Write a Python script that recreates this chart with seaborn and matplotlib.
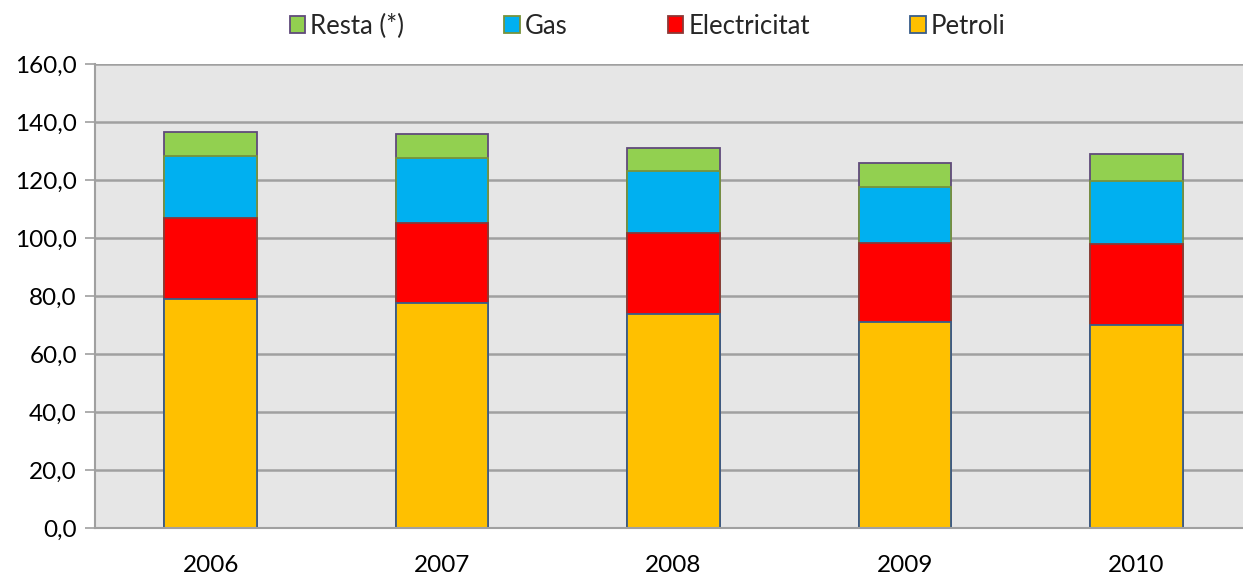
import matplotlib
matplotlib.use("Agg")
import matplotlib.pyplot as plt
import seaborn as sns
import pandas as pd
import numpy as np
from matplotlib.ticker import FuncFormatter, FixedLocator
from matplotlib.patches import Patch

years = ["2006", "2007", "2008", "2009", "2010"]
petroli = [79.1, 77.5, 73.8, 71.2, 70.1]
electricitat = [27.7, 27.8, 27.9, 27.2, 27.9]
gas = [21.6, 22.4, 21.4, 19.3, 21.8]
resta = [8.2, 8.2, 8.1, 8.1, 9.2]

series_names = ["Petroli", "Electricitat", "Gas", "Resta (*)"]
series_values = [petroli, electricitat, gas, resta]
fill_colors = ["#FFC000", "#FF0000", "#00B0F0", "#92D050"]
edge_colors = ["#385D8A", "#8C3836", "#77933C", "#604A7B"]

sns.set_theme(style="white")
plt.rcParams["font.family"] = ["Lato", "DejaVu Sans"]

fig = plt.figure(figsize=(12.43, 5.81), dpi=100)
ax = fig.add_axes([95 / 1243, 52.7 / 581, (1252 - 95) / 1243, (528.3 - 64) / 581])
ax.set_facecolor("#E6E6E6")

cum = np.cumsum(np.array(series_values), axis=0)
df = pd.DataFrame({"year": years})
for i, name in enumerate(series_names):
    df[name] = cum[i]

# draw from top layer down so lower segments overlay
for i in reversed(range(len(series_names))):
    sns.barplot(data=df, x="year", y=series_names[i], color=fill_colors[i],
                edgecolor=edge_colors[i], linewidth=1.3, width=0.4,
                saturation=1, ax=ax, zorder=3)

ax.set_ylim(0, 160)
ax.set_xlim(-0.5, 4.5)
ax.set_yticks(np.arange(0, 161, 20))
ax.yaxis.set_major_formatter(FuncFormatter(lambda v, p: f"{v:.1f}".replace(".", ",")))
ax.grid(axis="y", color="#A0A0A0", linewidth=1.8, zorder=0)
ax.set_axisbelow(True)
ax.set_xlabel("")
ax.set_ylabel("")

ax.xaxis.set_minor_locator(FixedLocator(np.arange(-0.5, 5, 1.0)))
ax.tick_params(axis="x", which="major", length=0, pad=19, labelsize=17.5, labelcolor="black")
ax.tick_params(axis="x", which="minor", length=7, width=1.2, color="#A0A0A0", direction="out")
ax.tick_params(axis="y", which="major", length=7, width=1.2, color="#A0A0A0", labelsize=17.5,
               pad=6, labelcolor="black", left=True)

for s in ["top", "right"]:
    ax.spines[s].set_visible(False)
for s in ["left", "bottom"]:
    ax.spines[s].set_color("#A0A0A0")
    ax.spines[s].set_linewidth(1.5)
    ax.spines[s].set_zorder(4)

handles = [Patch(facecolor=fill_colors[i], edgecolor=edge_colors[i], linewidth=1.3,
                 label=series_names[i]) for i in reversed(range(len(series_names)))]
fig.legend(handles=handles, loc="center", bbox_to_anchor=(0.5 + 26 / 1243, 1 - 26 / 581), ncol=4,
           frameon=False, fontsize=18.5, handlelength=0.6, handleheight=0.65,
           handletextpad=0.2, columnspacing=3.9)

fig.savefig("out.png", dpi=100)
